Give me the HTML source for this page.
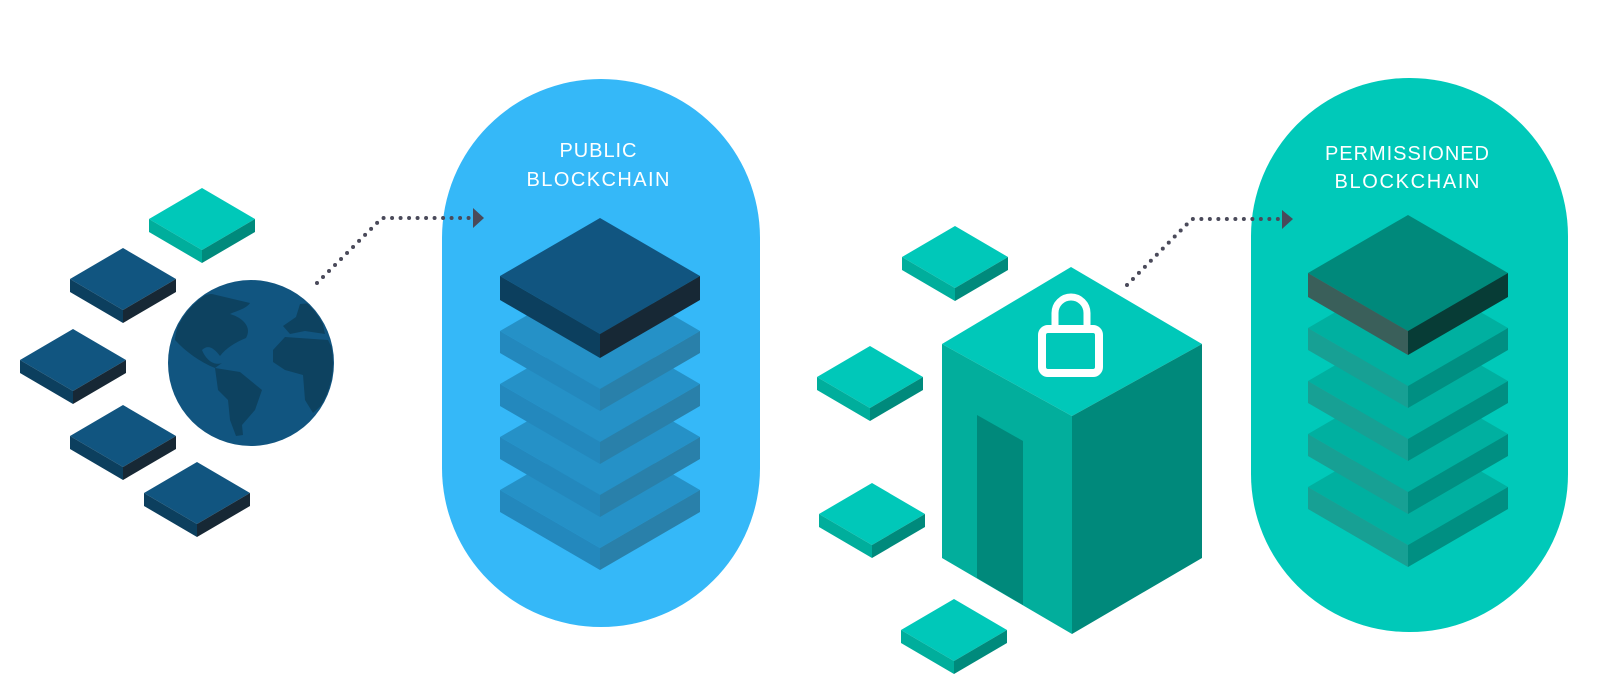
<!DOCTYPE html>
<html><head><meta charset="utf-8"><style>
html,body{margin:0;padding:0;background:#fff;width:1600px;height:700px;overflow:hidden}
svg{display:block}
text{font-family:"Liberation Sans",sans-serif;fill:#fff;font-size:20px}
</style></head><body>
<svg width="1600" height="700" viewBox="0 0 1600 700" xmlns="http://www.w3.org/2000/svg">
<defs>
  <g id="dk">
    <polygon points="0,0 53,31 0,62 -53,31" fill="#115580"/>
    <polygon points="-53,31 0,62 0,75 -53,44" fill="#0c3f5e"/>
    <polygon points="0,62 53,31 53,44 0,75" fill="#172835"/>
  </g>
  <g id="tl">
    <polygon points="0,0 53,31 0,62 -53,31" fill="#00c8b9"/>
    <polygon points="-53,31 0,62 0,75 -53,44" fill="#00ae9c"/>
    <polygon points="0,62 53,31 53,44 0,75" fill="#008a7c"/>
  </g>
  <g id="pl">
    <polygon points="0,0 100,58 0,116 -100,58" fill="#2591c7"/>
    <polygon points="-100,58 0,116 0,138 -100,80" fill="#2388bd"/>
    <polygon points="0,116 100,58 100,80 0,138" fill="#2980aa"/>
  </g>
  <g id="gl">
    <polygon points="0,0 100,58 0,116 -100,58" fill="#00b0a0"/>
    <polygon points="-100,58 0,116 0,138 -100,80" fill="#17a094"/>
    <polygon points="0,116 100,58 100,80 0,138" fill="#008f82"/>
  </g>
  <clipPath id="gc"><circle cx="251" cy="363" r="82"/></clipPath>
</defs>

<rect x="442" y="79" width="318" height="548" rx="159" fill="#35b8f8"/>
<rect x="1251" y="78" width="317" height="554" rx="158" fill="#00c9b9"/>

<text x="598" y="157" text-anchor="middle" textLength="77">PUBLIC</text>
<text x="598" y="186" text-anchor="middle" textLength="143">BLOCKCHAIN</text>
<text x="1407" y="160" text-anchor="middle" textLength="164">PERMISSIONED</text>
<text x="1407" y="188" text-anchor="middle" textLength="145">BLOCKCHAIN</text>

<use href="#pl" x="600" y="432"/>
<use href="#pl" x="600" y="379"/>
<use href="#pl" x="600" y="326"/>
<use href="#pl" x="600" y="273"/>
<polygon points="600,218 700,276 600,334 500,276" fill="#115580"/>
<polygon points="500,276 600,334 600,358 500,300" fill="#0c3f5e"/>
<polygon points="600,334 700,276 700,300 600,358" fill="#172835"/>

<use href="#gl" x="1408" y="429"/>
<use href="#gl" x="1408" y="376"/>
<use href="#gl" x="1408" y="323"/>
<use href="#gl" x="1408" y="270"/>
<polygon points="1408,215 1508,273 1408,331 1308,273" fill="#00897b"/>
<polygon points="1308,273 1408,331 1408,355 1308,297" fill="#3a5f5a"/>
<polygon points="1408,331 1508,273 1508,297 1408,355" fill="#073c36"/>

<use href="#tl" x="202" y="188"/>
<use href="#dk" x="123" y="248"/>
<use href="#dk" x="73" y="329"/>
<use href="#dk" x="123" y="405"/>
<use href="#dk" x="197" y="462"/>

<circle cx="251" cy="363" r="83" fill="#115580"/>
<g clip-path="url(#gc)" fill="#0d4260">
<path d="M175,340 C178,312 198,294 212,294 L250,303 C246,309 236,311 230,314 C244,318 252,328 246,338 C236,342 226,348 220,356 C214,348 208,344 202,350 C206,360 214,366 222,363 L215,368 C200,362 186,352 175,340 Z"/>
<path d="M215,368 L240,372 L262,390 L255,410 L242,425 L243,435 L236,436 L230,420 L228,400 L218,390 Z"/>
<path d="M273,350 L285,337 L328,340 L333,350 L333,395 L313,413 L305,400 L303,375 L285,370 L273,362 Z"/>
<path d="M283,326 L296,317 L300,304 L312,303 L322,320 L325,334 L305,331 L290,334 Z"/>
</g>

<path d="M317,283 L382,218 L470,218" fill="none" stroke="#4a4a5a" stroke-width="4" stroke-linecap="round" stroke-dasharray="0 8.5"/>
<polygon points="473,208 484,218 473,228" fill="#4a4a5a"/>

<path d="M1127,285 L1192,219 L1279,219" fill="none" stroke="#4a4a5a" stroke-width="4" stroke-linecap="round" stroke-dasharray="0 8.5"/>
<polygon points="1282,210 1293,219 1282,229" fill="#4a4a5a"/>

<use href="#tl" x="955" y="226"/>
<use href="#tl" x="870" y="346"/>
<use href="#tl" x="872" y="483"/>
<use href="#tl" x="954" y="599"/>

<polygon points="1071,267 1202,344 1072,416 942,344" fill="#00c8b9"/>
<polygon points="942,344 1072,416 1072,634 942,558" fill="#02ae9c"/>
<polygon points="1072,416 1202,344 1202,558 1072,634" fill="#00897b"/>
<polygon points="977,415 1023,441 1023,605 977,578" fill="#00897b"/>
<rect x="1042" y="329" width="57" height="44" rx="6" fill="none" stroke="#fff" stroke-width="8"/>
<path d="M1055,329 V313 a16,16 0 0 1 32,0 V329" fill="none" stroke="#fff" stroke-width="7"/>
</svg>
</body></html>
